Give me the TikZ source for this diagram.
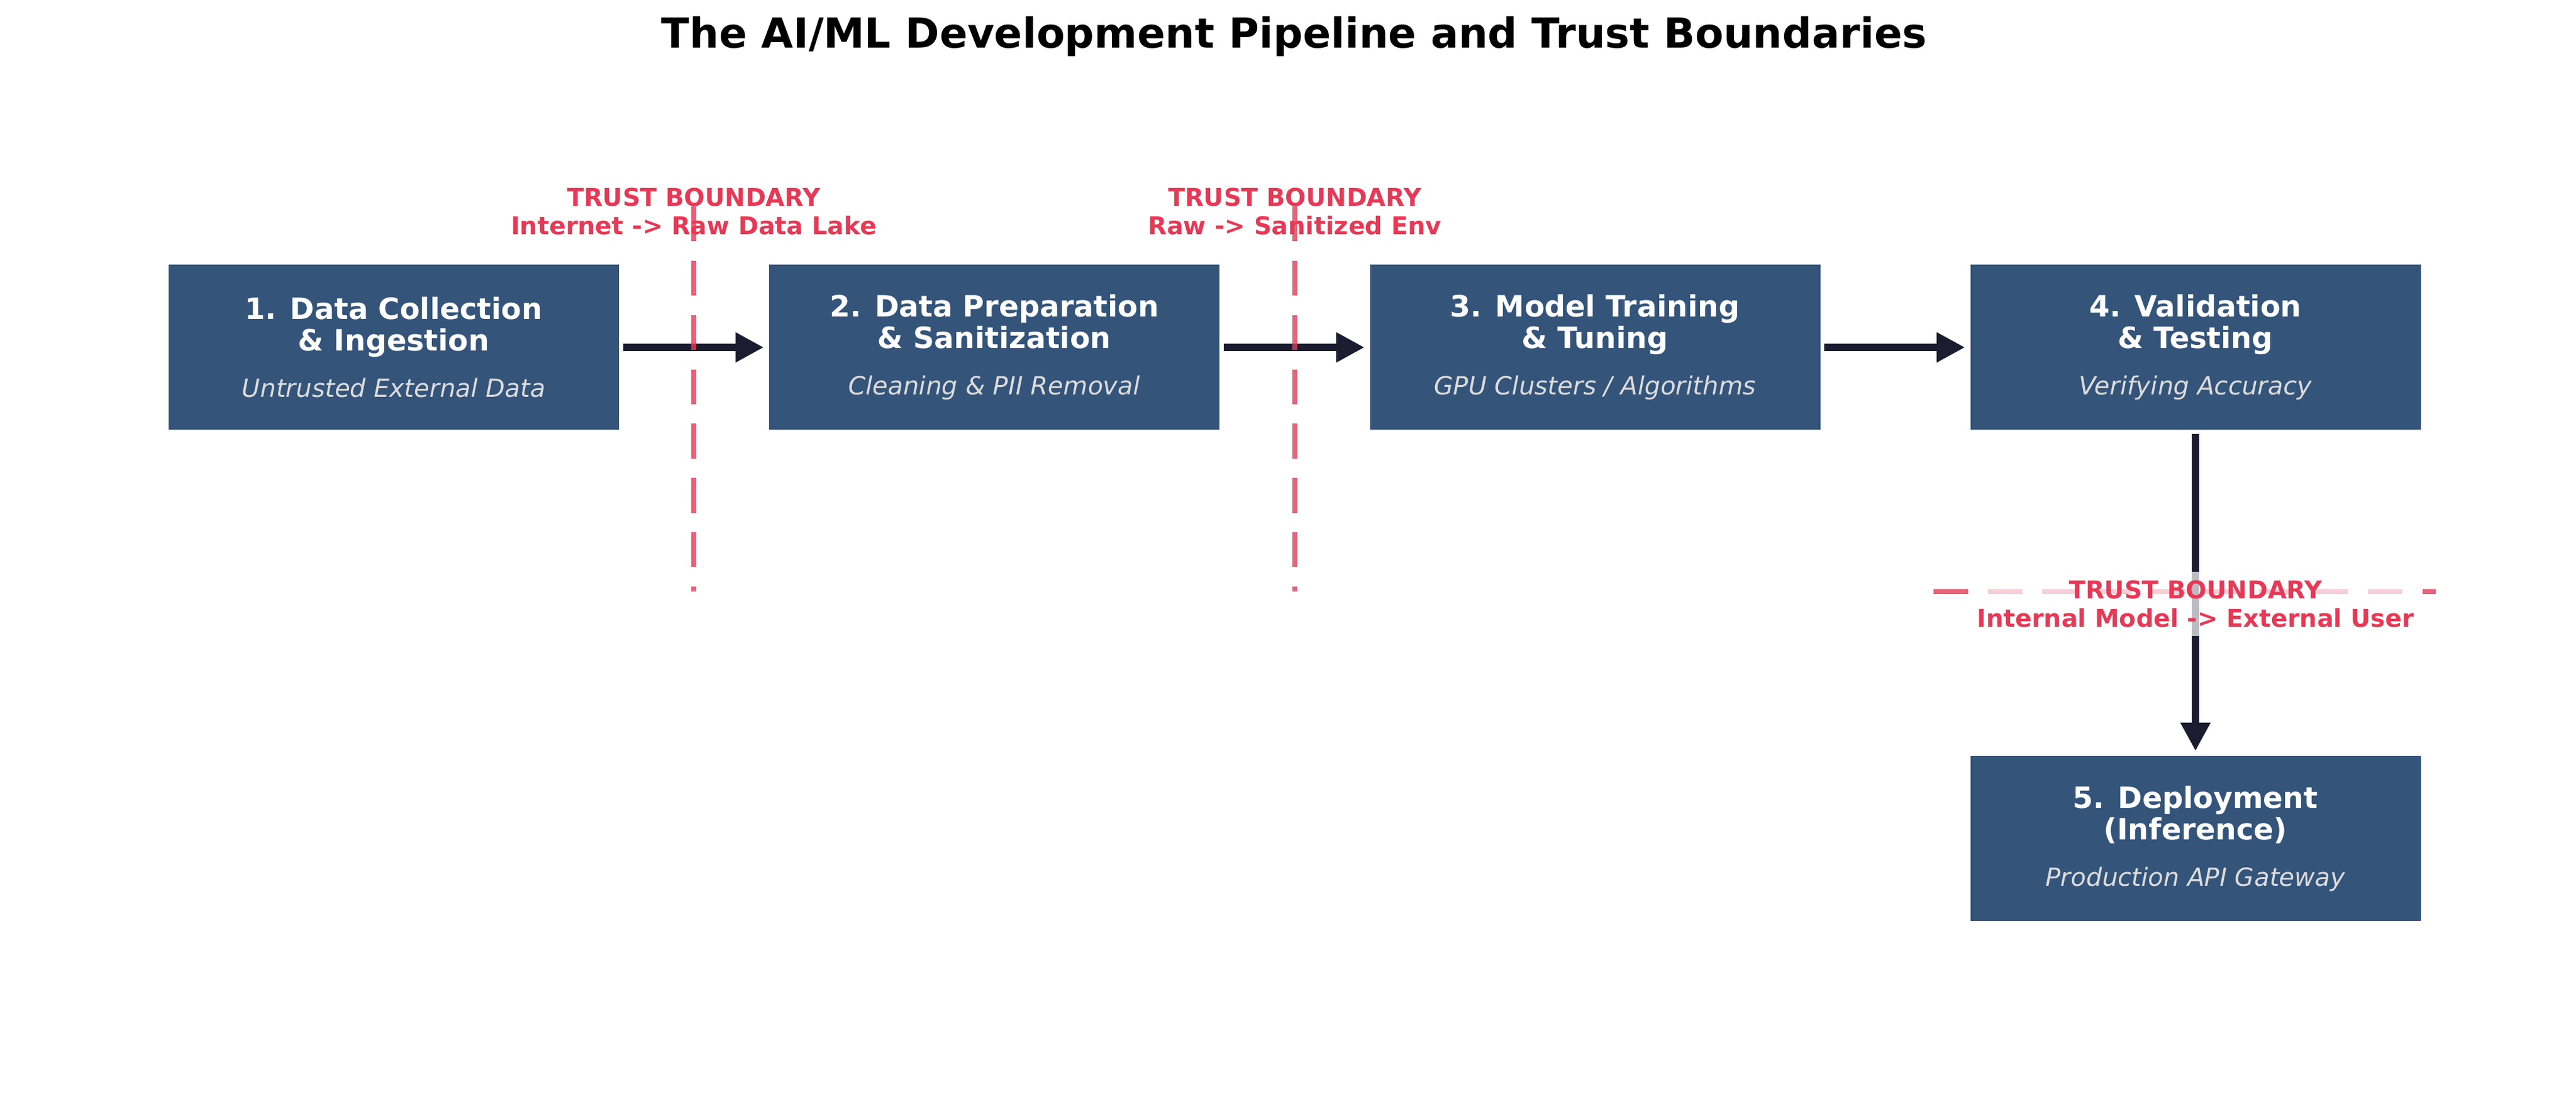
\documentclass[tikz,border=0pt]{standalone}
\usepackage{fontspec}
\setmainfont{DejaVu Sans}
\usetikzlibrary{arrows.meta,positioning}
\definecolor{stageblue}{HTML}{34547A}
\definecolor{trustred}{HTML}{E63956}
\definecolor{flowdark}{HTML}{1B1C30}
\definecolor{subgrey}{HTML}{DCDCDC}
\tikzset{
  stage/.style={fill=stageblue, minimum width=7.29cm, minimum height=2.67cm,
    align=center, text=white, inner sep=0pt, font=\fontsize{13.5}{14.4}\selectfont\bfseries},
  flow/.style={draw=flowdark, line width=3.2pt, -{Triangle[length=13pt,width=13pt]}},
  boundary/.style={draw=trustred, draw opacity=0.8, line width=2.4pt, dash pattern=on 16pt off 9pt},
  blabel/.style={text=trustred, font=\fontsize{11.3}{13}\selectfont\bfseries, align=center}
}
\newcommand{\stagesub}[1]{\fontsize{11.5}{13}\selectfont\mdseries\itshape\color{subgrey}#1}
\begin{document}
\begin{tikzpicture}
  \useasboundingbox (0,0) rectangle (41.70,17.73);
  \node[font=\fontsize{19}{22}\selectfont\bfseries] (title) at (20.95,17.14) {The AI/ML Development Pipeline and Trust Boundaries};
  % pipeline stages
  \node[stage] (collect) at (6.375,12.11) {1. Data Collection\\\& Ingestion\\[7pt]\stagesub{Untrusted External Data}};
  \node[stage] (prep) at (16.095,12.11) {2. Data Preparation\\\& Sanitization\\[7pt]\stagesub{Cleaning \& PII Removal}};
  \node[stage] (train) at (25.82,12.11) {3. Model Training\\\& Tuning\\[7pt]\stagesub{GPU Clusters / Algorithms}};
  \node[stage] (valid) at (35.54,12.11) {4. Validation\\\& Testing\\[7pt]\stagesub{Verifying Accuracy}};
  \node[stage] (deploy) at (35.54,4.16) {5. Deployment\\(Inference)\\[7pt]\stagesub{Production API Gateway}};
  % labels of the first two boundaries
  \node[blabel] (tb1) at (11.23,14.31) {TRUST BOUNDARY\\Internet -> Raw Data Lake};
  \node[blabel] (tb2) at (20.96,14.31) {TRUST BOUNDARY\\Raw -> Sanitized Env};
  % flow
  \draw[flow] ([xshift=0.06cm]collect.east) -- ([xshift=-0.08cm]prep.west);
  \draw[flow] ([xshift=0.06cm]prep.east) -- ([xshift=-0.08cm]train.west);
  \draw[flow] ([xshift=0.06cm]train.east) -- ([xshift=-0.08cm]valid.west);
  \draw[flow] ([yshift=-0.06cm]valid.south) -- ([yshift=0.08cm]deploy.north);
  % boundaries
  \coordinate (b1top) at (11.23,14.39);
  \coordinate (b1bot) at (11.23,8.16);
  \coordinate (b2top) at (20.96,14.39);
  \coordinate (b2bot) at (20.96,8.16);
  \coordinate (b3l) at (31.30,8.16);
  \coordinate (b3r) at (39.43,8.16);
  \draw[boundary] (b1top) -- (b1bot);
  \draw[boundary] (b2top) -- (b2bot);
  \draw[boundary] (b3l) -- (b3r);
  \node[blabel, fill=white, fill opacity=0.7, text opacity=1, inner sep=4pt] (tb3) at (35.54,7.96) {TRUST BOUNDARY\\Internal Model -> External User};
\end{tikzpicture}
\end{document}
